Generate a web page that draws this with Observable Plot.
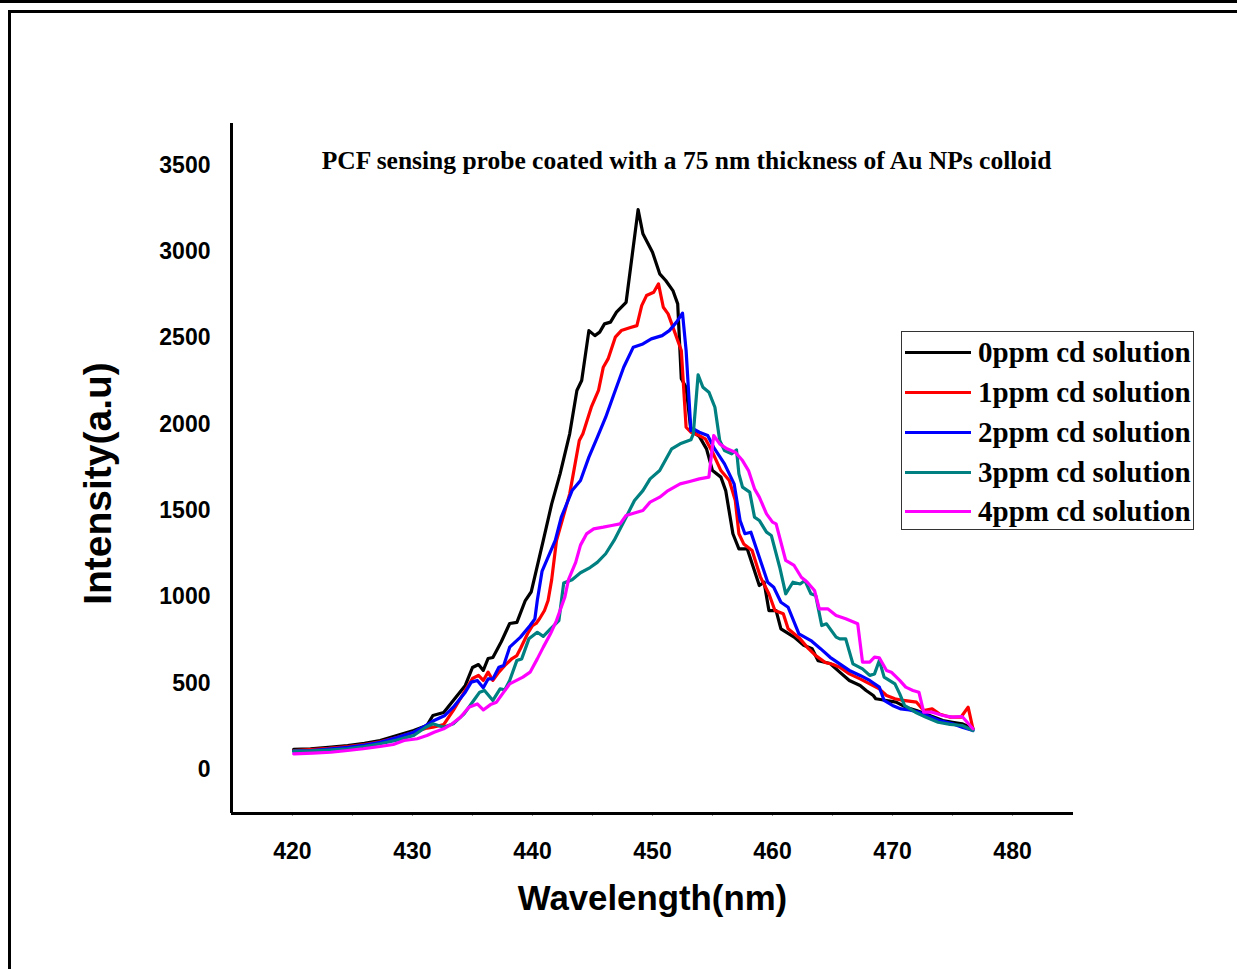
<!DOCTYPE html>
<html><head><meta charset="utf-8">
<script src="https://cdn.jsdelivr.net/npm/d3@7"></script>
<script src="https://cdn.jsdelivr.net/npm/@observablehq/plot@0.6"></script>
<style>
html,body{margin:0;padding:0;background:#fff;}
#wrap{position:relative;width:1237px;height:969px;overflow:hidden;background:#fff;}
#chart{position:absolute;left:0;top:0;}
.fr{position:absolute;background:#000;}
#legend{position:absolute;left:901px;top:331px;width:291px;height:197px;border:1px solid #333;background:#fff;
  font-family:"Liberation Serif","Times New Roman",serif;font-weight:bold;font-size:29px;color:#000;}
.row{position:absolute;left:0;height:40px;width:291px;}
.sw{position:absolute;left:3px;width:66px;height:3px;top:19px;}
.lt{position:absolute;left:76px;top:0;line-height:40px;white-space:nowrap;}
</style>
</head><body>
<div id="wrap">
  <div class="fr" style="left:0;top:0;width:1237px;height:3px"></div>
  <div class="fr" style="left:8px;top:10px;width:1229px;height:3px"></div>
  <div class="fr" style="left:8px;top:10px;width:3px;height:959px"></div>
  <div id="chart"></div>
  <div id="legend"></div>
</div>
<script>
const chartTitle = "PCF sensing probe coated with a 75 nm thickness of Au NPs colloid";
const xLabel = "Wavelength(nm)";
const yLabel = "Intensity(a.u)";
const seriesNames = ["0ppm cd solution","1ppm cd solution","2ppm cd solution","3ppm cd solution","4ppm cd solution"];
const seriesColors = ["#000000","#ff0000","#0000ff","#008080","#ff00ff"];
const xTicks = [420,430,440,450,460,470,480];
const xMinorTicks = [420,425,430,435,440,445,450,455,460,465,470,475,480];
const yTicks = [0,500,1000,1500,2000,2500,3000,3500];

// 0 ppm
const wl0 = [420.1,421.5,423.0,424.6,426.0,427.3,428.7,430.1,431.2,431.7,432.6,433.4,434.4,435.0,435.5,435.9,436.3,436.7,437.4,438.1,438.7,439.4,439.9,440.3,440.9,441.6,442.3,443.1,443.7,444.1,444.7,445.2,445.6,446.0,446.5,447.0,447.8,448.8,449.2,450.0,450.6,451.1,451.7,452.1,452.4,452.8,453.2,453.9,454.5,455.0,455.7,456.1,456.7,457.2,457.9,458.9,459.3,459.7,460.3,460.7,461.8,462.6,463.3,463.8,464.8,465.6,466.4,467.3,467.8,468.4,468.6,469.5,470.3,471.1,472.0,473.1,474.2,475.0,475.8,476.7];
const int0 = [116,120,128,139,152,168,197,226,255,313,330,400,487,591,608,574,643,649,740,846,852,979,1030,1150,1327,1539,1713,1945,2196,2254,2543,2514,2534,2582,2592,2650,2707,3244,3104,2997,2872,2833,2775,2698,2264,2215,1964,1930,1858,1732,1694,1616,1366,1278,1278,1066,1085,921,921,815,767,720,700,630,614,564,516,487,458,429,410,400,390,361,342,313,284,274,265,236];
// 1 ppm
const wl1 = [420.1,421.5,423.0,424.6,426.0,427.3,428.7,430.1,431.2,431.7,432.6,433.4,434.4,435.0,435.5,435.9,436.3,436.7,437.2,437.7,438.3,438.7,439.0,439.6,440.0,440.3,440.6,441.0,441.3,441.6,442.0,443.1,443.9,444.2,444.9,445.5,445.9,446.3,446.9,447.4,448.1,448.7,449.1,449.5,450.1,450.5,450.9,451.3,451.7,452.4,452.8,453.2,453.9,454.4,455.0,455.7,456.4,456.9,457.2,457.6,458.3,459.0,459.7,460.2,460.9,461.3,462.3,463.0,463.6,464.4,465.0,465.6,466.4,467.3,468.1,468.9,469.5,470.2,470.9,472.0,472.6,473.3,473.9,474.8,475.7,476.3,476.7];
const int1 = [110,115,122,132,145,160,185,215,240,245,260,342,458,527,545,516,564,516,564,603,643,660,701,788,834,846,875,921,979,1100,1327,1597,1906,1945,2099,2196,2331,2379,2505,2543,2559,2572,2688,2746,2765,2814,2678,2640,2563,2428,1983,1954,1935,1916,1838,1732,1674,1558,1366,1307,1269,1114,1018,921,902,815,757,700,660,620,610,593,554,525,496,467,429,410,400,390,342,351,322,303,303,361,236];
// 2 ppm
const wl2 = [420.1,421.5,423.0,424.6,426.0,427.3,428.7,430.1,431.0,431.8,432.7,433.4,434.4,434.9,435.4,435.9,436.3,436.7,437.2,437.6,438.1,439.0,439.8,440.2,440.4,440.8,441.3,441.9,442.4,443.3,444.0,444.7,445.4,446.1,446.8,447.6,448.4,449.2,449.9,450.8,451.4,452.0,452.5,452.8,453.2,453.4,453.9,454.6,455.1,456.0,456.8,457.3,457.7,458.2,458.9,459.6,460.1,460.7,461.3,462.2,463.2,464.0,464.8,465.6,466.4,467.3,468.1,468.9,469.3,470.0,470.7,471.4,472.2,473.1,473.9,475.0,475.8,476.7];
const int2 = [106,110,118,129,142,158,185,216,250,284,313,361,448,506,516,473,525,525,593,603,709,767,834,873,979,1150,1230,1327,1462,1616,1674,1810,1925,2041,2177,2331,2447,2466,2495,2514,2543,2592,2644,2428,1964,1974,1954,1935,1867,1771,1655,1443,1366,1375,1230,1085,1056,969,940,786,747,700,650,612,574,545,516,477,400,371,351,345,332,307,284,265,245,226];
// 3 ppm
const wl3 = [420.1,421.5,423.0,424.6,426.0,427.3,428.7,430.1,431.1,431.7,432.6,433.4,434.3,435.1,435.6,436.0,436.7,437.3,437.7,438.1,438.7,439.1,439.7,440.4,440.9,441.5,442.2,442.6,443.3,444.0,444.8,445.4,446.1,446.8,447.8,448.5,449.2,449.8,450.6,451.6,452.3,453.2,453.4,453.8,454.2,454.7,455.2,455.6,456.0,456.6,457.0,457.2,457.5,458.1,458.5,458.9,459.5,459.9,460.6,461.1,461.7,462.3,462.7,463.2,463.6,464.1,464.5,465.3,465.6,466.1,466.7,467.5,468.1,468.5,468.9,469.3,470.2,470.6,471.0,471.9,472.8,473.8,474.8,475.8,476.7];
const int3 = [106,108,113,120,133,149,170,197,245,265,245,265,322,400,448,458,400,467,462,516,632,641,757,795,771,815,863,1080,1100,1140,1170,1200,1250,1327,1462,1559,1616,1684,1732,1858,1887,1910,1945,2287,2215,2186,2099,1906,1848,1829,1852,1713,1636,1607,1462,1443,1375,1356,1172,1018,1085,1075,1095,1018,1008,834,844,767,757,757,612,583,545,554,632,535,496,438,371,332,303,274,261,255,226];
// 4 ppm
const wl4 = [420.1,421.7,423.2,424.6,425.9,427.3,428.4,429.3,430.4,431.2,431.8,432.6,433.3,434.0,434.7,435.4,435.9,436.5,437.0,437.6,438.1,439.2,439.8,440.4,440.9,441.5,442.0,442.7,443.0,443.6,444.0,444.5,445.1,445.9,446.6,447.3,447.8,448.7,449.2,449.8,450.6,451.3,452.3,453.1,453.9,454.7,455.1,455.6,456.2,456.9,457.5,458.0,458.5,458.9,459.5,460.0,460.3,461.1,461.8,462.4,462.9,463.5,463.9,464.6,465.3,466.1,467.1,467.5,468.1,468.5,468.9,469.5,469.9,470.6,471.1,471.7,472.2,472.6,473.3,474.2,475.0,475.8,476.7];
const int4 = [91,95,100,110,120,133,145,168,178,197,216,236,265,303,361,380,345,376,390,448,496,535,564,641,709,786,863,1000,1100,1200,1300,1365,1394,1404,1414,1423,1472,1491,1501,1549,1578,1616,1655,1669,1684,1694,1935,1887,1858,1838,1790,1732,1626,1578,1481,1433,1423,1211,1182,1114,1085,1037,931,931,892,873,844,622,622,651,647,574,564,516,477,458,448,332,332,313,303,307,236];

const wls = [wl0,wl1,wl2,wl3,wl4];
const ints = [int0,int1,int2,int3,int4];
const rows = [];
wls.forEach((w,i)=>w.forEach((x,j)=>rows.push({wl:x, val:ints[i][j], series:seriesNames[i]})));

const xDomain = [414.92, 485.08];
const yDomain = [-255, 3743];
const sans = "Liberation Sans, Arial, Helvetica, sans-serif";
const serif = "Liberation Serif, Times New Roman, serif";

const plot = Plot.plot({
  width:1237, height:969,
  marginLeft:231, marginRight:164, marginTop:123, marginBottom:156,
  x:{domain:xDomain},
  y:{domain:yDomain},
  color:{domain:seriesNames, range:seriesColors},
  style:{fontFamily:sans, background:"transparent", color:"#000"},
  marks:[
    Plot.axisY({ticks:yTicks, tickSize:0, tickPadding:21, tickFormat:d=>String(d), fontSize:23, fontWeight:"bold", fontFamily:sans, label:null}),
    Plot.axisX({ticks:xMinorTicks, tickSize:3, tickFormat:()=>"", stroke:"#999", label:null}),
    Plot.axisX({ticks:xTicks, tickSize:0, tickPadding:29, tickFormat:d=>String(d), fontSize:23, fontWeight:"bold", fontFamily:sans, label:null}),
    Plot.line(rows,{x:"wl", y:"val", z:"series", stroke:"series", strokeWidth:3.2, strokeLinejoin:"round"}),
    Plot.ruleX([xDomain[0]],{stroke:"#000", strokeWidth:3}),
    Plot.ruleY([yDomain[0]],{stroke:"#000", strokeWidth:3}),
    Plot.text([chartTitle],{text:d=>d, frameAnchor:"top", lineAnchor:"middle", dx:34, dy:37, fontFamily:serif, fontWeight:"bold", fontSize:25.5, fill:"#000"}),
    Plot.text([xLabel],{text:d=>d, frameAnchor:"bottom", lineAnchor:"middle", dy:85, fontFamily:sans, fontWeight:"bold", fontSize:34.8, fill:"#000"}),
    Plot.text([yLabel],{text:d=>d, frameAnchor:"left", textAnchor:"middle", lineAnchor:"middle", dx:-133, dy:15, rotate:-90, fontFamily:sans, fontWeight:"bold", fontSize:39, fill:"#000"})
  ]
});
document.getElementById("chart").appendChild(plot);

const legend = document.getElementById("legend");
const centers = [20,60,100,140,179];
seriesNames.forEach((name,i)=>{
  const row = document.createElement("div");
  row.className = "row";
  row.style.top = (centers[i]-20) + "px";
  const sw = document.createElement("div");
  sw.className = "sw";
  sw.style.background = seriesColors[i];
  const t = document.createElement("span");
  t.className = "lt";
  t.textContent = name;
  row.appendChild(sw); row.appendChild(t);
  legend.appendChild(row);
});
</script>
</body></html>
